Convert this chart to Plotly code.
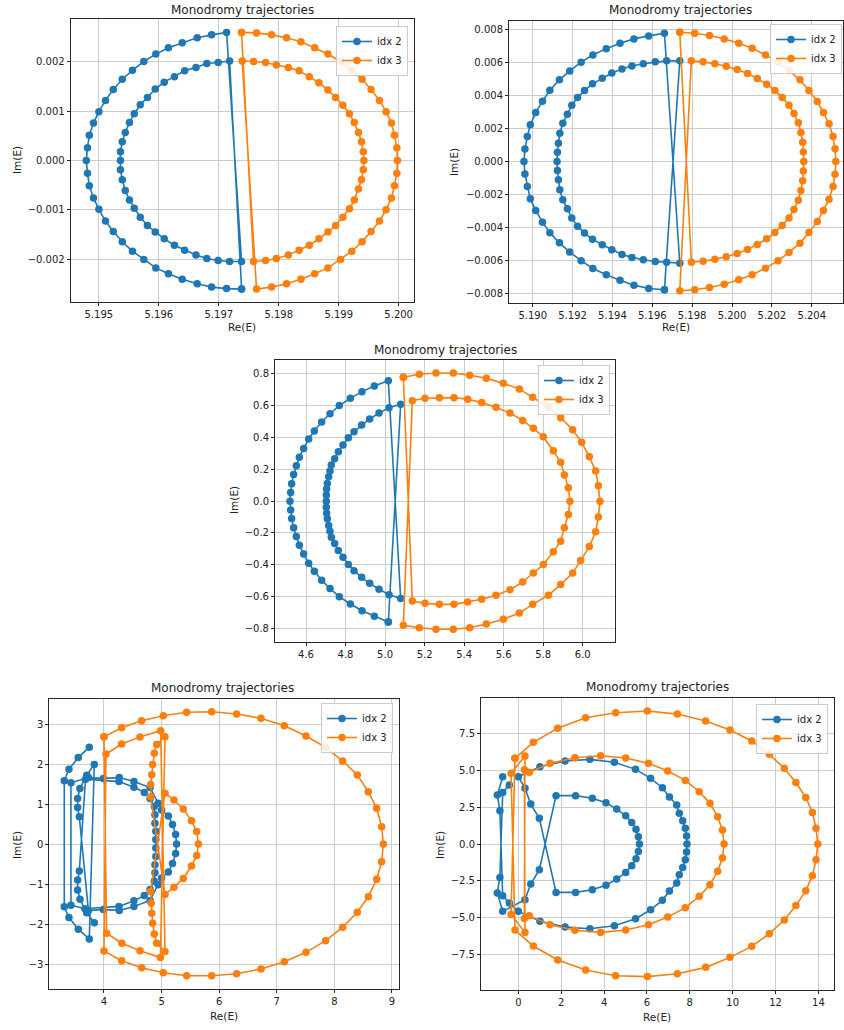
import plotly.graph_objects as go

# ---------------- data ----------------
# Panel 1
P1_IDX2_RE = [5.19738, 5.19713, 5.19688, 5.19664, 5.19639, 5.19616, 5.19595, 5.19575, 5.19556, 5.19539, 5.19524, 5.19511, 5.19500, 5.19491, 5.19484, 5.19481, 5.19479, 5.19481, 5.19484, 5.19491, 5.19500, 5.19511, 5.19524, 5.19539, 5.19556, 5.19575, 5.19595, 5.19616, 5.19639, 5.19664, 5.19688, 5.19713,
              5.19738, 5.19718, 5.19699, 5.19680, 5.19662, 5.19643, 5.19626, 5.19609, 5.19594, 5.19581, 5.19569, 5.19559, 5.19551, 5.19544, 5.19539, 5.19536, 5.19536, 5.19536, 5.19539, 5.19544, 5.19551, 5.19559, 5.19569, 5.19581, 5.19594, 5.19609, 5.19626, 5.19643, 5.19662, 5.19680, 5.19699, 5.19718,
              5.19738]
P1_IDX2_IM = [-0.00261, -0.00260, -0.00257, -0.00250, -0.00241, -0.00230, -0.00218, -0.00201, -0.00184, -0.00165, -0.00144, -0.00123, -0.00099, -0.00076, -0.00051, -0.00026, 0.0, 0.00026, 0.00051, 0.00076, 0.00099, 0.00122, 0.00144, 0.00165, 0.00183, 0.00201, 0.00216, 0.00229, 0.00239, 0.00249, 0.00255, 0.00260,
              -0.00205, -0.00205, -0.00203, -0.00199, -0.00192, -0.00182, -0.00172, -0.00159, -0.00145, -0.00132, -0.00115, -0.00097, -0.00080, -0.00061, -0.00039, -0.00019, 0.0, 0.00018, 0.00038, 0.00057, 0.00077, 0.00095, 0.00113, 0.00128, 0.00145, 0.00159, 0.00170, 0.00182, 0.00189, 0.00197, 0.00199, 0.00202,
              -0.00261]
P1_IDX3_RE = [5.19738, 5.19763, 5.19788, 5.19813, 5.19837, 5.19860, 5.19882, 5.19903, 5.19922, 5.19939, 5.19954, 5.19968, 5.19979, 5.19988, 5.19993, 5.19997, 5.19998, 5.19997, 5.19993, 5.19988, 5.19979, 5.19968, 5.19954, 5.19939, 5.19922, 5.19903, 5.19882, 5.19860, 5.19837, 5.19813, 5.19788, 5.19763,
              5.19739, 5.19758, 5.19778, 5.19796, 5.19816, 5.19834, 5.19851, 5.19867, 5.19882, 5.19895, 5.19907, 5.19918, 5.19926, 5.19933, 5.19938, 5.19941, 5.19942, 5.19941, 5.19938, 5.19933, 5.19926, 5.19918, 5.19907, 5.19895, 5.19882, 5.19867, 5.19851, 5.19834, 5.19816, 5.19796, 5.19778, 5.19758,
              5.19738]
P1_IDX3_IM = [0.00260, 0.00259, 0.00255, 0.00249, 0.00241, 0.00229, 0.00216, 0.00201, 0.00183, 0.00165, 0.00144, 0.00122, 0.00099, 0.00076, 0.00051, 0.00026, 0.0, -0.00026, -0.00051, -0.00076, -0.00100, -0.00123, -0.00144, -0.00165, -0.00184, -0.00201, -0.00218, -0.00230, -0.00241, -0.00250, -0.00257, -0.00261,
              0.00202, 0.00201, 0.00199, 0.00194, 0.00189, 0.00182, 0.00170, 0.00158, 0.00143, 0.00128, 0.00112, 0.00095, 0.00077, 0.00057, 0.00038, 0.00018, 0.0, -0.00019, -0.00039, -0.00058, -0.00080, -0.00098, -0.00115, -0.00132, -0.00145, -0.00159, -0.00172, -0.00182, -0.00192, -0.00199, -0.00203, -0.00205,
              0.00260]

# Panel 2
P2_IDX2_RE = [5.19661, 5.19582, 5.19508, 5.19438, 5.19369, 5.19302, 5.19243, 5.19186, 5.19134, 5.19086, 5.19049, 5.19015, 5.18988, 5.18973, 5.18961, 5.18956, 5.18961, 5.18973, 5.18988, 5.19015, 5.19049, 5.19086, 5.19134, 5.19186, 5.19243, 5.19302, 5.19369, 5.19438, 5.19508, 5.19582, 5.19661,
              5.19738, 5.19672, 5.19615, 5.19555, 5.19498, 5.19448, 5.19397, 5.19349, 5.19300, 5.19260, 5.19225, 5.19196, 5.19174, 5.19151, 5.19136, 5.19129, 5.19124, 5.19122, 5.19124, 5.19129, 5.19136, 5.19151, 5.19174, 5.19196, 5.19225, 5.19260, 5.19300, 5.19349, 5.19397, 5.19448, 5.19498, 5.19555, 5.19615, 5.19672, 5.19738,
              5.19661]
P2_IDX2_IM = [-0.00776, -0.00768, -0.00748, -0.00719, -0.00685, -0.00647, -0.00600, -0.00548, -0.00492, -0.00431, -0.00367, -0.00296, -0.00226, -0.00151, -0.00075, 0.0, 0.00075, 0.00151, 0.00222, 0.00296, 0.00365, 0.00431, 0.00494, 0.00548, 0.00601, 0.00645, 0.00683, 0.00715, 0.00742, 0.00760, 0.00776,
              -0.00615, -0.00609, -0.00605, -0.00594, -0.00580, -0.00562, -0.00534, -0.00504, -0.00470, -0.00433, -0.00391, -0.00341, -0.00286, -0.00232, -0.00171, -0.00111, -0.00054, 0.0, 0.00056, 0.00111, 0.00171, 0.00232, 0.00286, 0.00341, 0.00387, 0.00429, 0.00470, 0.00504, 0.00536, 0.00560, 0.00578, 0.00592, 0.00603, 0.00609, 0.00609,
              -0.00776]
P2_IDX3_RE = [5.19738, 5.19813, 5.19887, 5.19961, 5.20034, 5.20101, 5.20168, 5.20231, 5.20286, 5.20341, 5.20386, 5.20428, 5.20459, 5.20487, 5.20507, 5.20517, 5.20521, 5.20517, 5.20507, 5.20487, 5.20459, 5.20428, 5.20386, 5.20341, 5.20286, 5.20231, 5.20168, 5.20101, 5.20034, 5.19961, 5.19887, 5.19813, 5.19738,
              5.19796, 5.19855, 5.19914, 5.19971, 5.20026, 5.20078, 5.20127, 5.20174, 5.20215, 5.20252, 5.20286, 5.20311, 5.20333, 5.20346, 5.20355, 5.20358, 5.20360, 5.20358, 5.20355, 5.20346, 5.20333, 5.20311, 5.20286, 5.20252, 5.20215, 5.20174, 5.20127, 5.20078, 5.20026, 5.19971, 5.19914, 5.19855, 5.19796,
              5.19738]
P2_IDX3_IM = [0.00782, 0.00776, 0.00762, 0.00742, 0.00715, 0.00685, 0.00645, 0.00601, 0.00550, 0.00494, 0.00429, 0.00363, 0.00296, 0.00228, 0.00151, 0.00077, 0.0, -0.00077, -0.00151, -0.00228, -0.00296, -0.00363, -0.00429, -0.00494, -0.00550, -0.00601, -0.00645, -0.00685, -0.00715, -0.00742, -0.00762, -0.00776, -0.00782,
              0.00609, 0.00603, 0.00592, 0.00576, 0.00556, 0.00532, 0.00502, 0.00468, 0.00429, 0.00387, 0.00341, 0.00290, 0.00234, 0.00175, 0.00117, 0.00058, 0.0, -0.00058, -0.00117, -0.00175, -0.00234, -0.00290, -0.00341, -0.00387, -0.00429, -0.00468, -0.00502, -0.00532, -0.00556, -0.00576, -0.00592, -0.00603, -0.00609,
              0.00782]

# Panel 3
P3_IDX2_RE = [5.0165, 4.9457, 4.8833, 4.8243, 4.7686, 4.7214, 4.6793, 4.6422, 4.6135, 4.5882, 4.5663, 4.5511, 4.5376, 4.5275, 4.5224, 4.5191, 4.5224, 4.5275, 4.5376, 4.5511, 4.5663, 4.5882, 4.6135, 4.6422, 4.6793, 4.7214, 4.7686, 4.8243, 4.8833, 4.9457, 5.0165,
              5.0789, 5.0199, 4.9693, 4.9221, 4.8816, 4.8428, 4.8142, 4.7872, 4.7636, 4.7450, 4.7282, 4.7214, 4.7147, 4.7079, 4.7045, 4.7029, 4.7029, 4.7029, 4.7045, 4.7079, 4.7147, 4.7214, 4.7282, 4.7450, 4.7636, 4.7872, 4.8142, 4.8428, 4.8816, 4.9221, 4.9693, 5.0199, 5.0789,
              5.0165]
P3_IDX2_IM = [-0.760, -0.7245, -0.689, -0.647, -0.601, -0.550, -0.498, -0.441, -0.391, -0.332, -0.277, -0.223, -0.168, -0.109, -0.055, 0.0, 0.055, 0.109, 0.168, 0.223, 0.277, 0.332, 0.391, 0.441, 0.498, 0.550, 0.601, 0.647, 0.689, 0.7245, 0.758,
              -0.613, -0.588, -0.554, -0.517, -0.479, -0.437, -0.399, -0.353, -0.311, -0.267, -0.227, -0.189, -0.153, -0.111, -0.076, -0.038, 0.0, 0.038, 0.076, 0.111, 0.153, 0.189, 0.227, 0.267, 0.311, 0.353, 0.399, 0.437, 0.479, 0.517, 0.554, 0.588, 0.609,
              -0.760]
P3_IDX3_RE = [5.0924, 5.1733, 5.2577, 5.3453, 5.4280, 5.5123, 5.5983, 5.6792, 5.7467, 5.8259, 5.8883, 5.9490, 5.9946, 6.0334, 6.0654, 6.0789, 6.0873, 6.0789, 6.0654, 6.0334, 5.9895, 5.9490, 5.8883, 5.8259, 5.7467, 5.6792, 5.5983, 5.5123, 5.4280, 5.3453, 5.2577, 5.1733, 5.0924,
              5.1379, 5.2020, 5.2745, 5.3487, 5.4179, 5.4887, 5.5612, 5.6320, 5.6961, 5.7501, 5.8006, 5.8512, 5.8883, 5.9069, 5.9271, 5.9355, 5.9271, 5.9069, 5.8883, 5.8512, 5.8006, 5.7501, 5.6961, 5.6320, 5.5612, 5.4887, 5.4179, 5.3487, 5.2745, 5.2020, 5.1379,
              5.0924]
P3_IDX3_IM = [0.779, 0.798, 0.806, 0.806, 0.792, 0.773, 0.741, 0.706, 0.653, 0.594, 0.525, 0.449, 0.370, 0.279, 0.189, 0.097, 0.0, -0.099, -0.193, -0.286, -0.374, -0.452, -0.525, -0.592, -0.649, -0.704, -0.743, -0.773, -0.796, -0.806, -0.806, -0.796, -0.781,
              0.632, 0.647, 0.651, 0.651, 0.641, 0.620, 0.590, 0.554, 0.508, 0.458, 0.405, 0.317, 0.244, 0.164, 0.084, 0.0, -0.084, -0.168, -0.252, -0.319, -0.399, -0.452, -0.508, -0.557, -0.592, -0.617, -0.634, -0.649, -0.649, -0.643, -0.628,
              0.779]

# Panel 4
P4_IDX2_RE = [3.745, 3.554, 3.392, 3.311, 3.311, 3.392, 3.554, 3.745, 3.832, 3.70, 3.583, 3.543, 3.543, 3.572,
              3.73, 3.99, 4.266, 4.52, 4.80, 4.94, 5.0, 5.117, 5.19, 5.244, 5.26, 5.244, 5.19, 5.117, 5.0, 4.94, 4.80, 4.52, 4.266, 3.99, 3.73,
              3.427, 3.427, 3.67, 4.26, 4.52, 4.70, 4.80, 4.874, 4.885, 4.885, 4.90, 4.90, 4.90, 4.90, 4.885, 4.885, 4.874, 4.80, 4.70, 4.52, 4.26, 3.68,
              3.572, 3.543, 3.543, 3.583, 3.70, 3.832]
P4_IDX2_IM = [2.42, 2.16, 1.87, 1.58, -1.57, -1.84, -2.13, -2.375, 1.99, 1.72, 1.39, 1.14, 0.91, 0.68,
              -1.66, -1.64, -1.66, -1.56, -1.41, -1.02, -0.85, -0.70, -0.49, -0.24, 0.0, 0.24, 0.49, 0.70, 0.85, 1.02, 1.41, 1.56, 1.66, 1.64, 1.66,
              1.53, -1.53, -1.62, -1.56, -1.42, -1.29, -1.14, -0.93, -0.72, -0.52, -0.31, -0.10, 0.11, 0.32, 0.52, 0.73, 0.94, 1.14, 1.29, 1.42, 1.56, 1.62,
              -0.675, -0.90, -1.15, -1.38, -1.72, -1.97]
P4_IDX3_RE = [4.0, 4.307, 4.654, 5.030, 5.435, 5.869, 6.303, 6.726, 7.131, 7.507, 7.848, 8.144, 8.398, 8.589, 8.734, 8.821, 8.850, 8.821, 8.734, 8.589, 8.398, 8.144, 7.848, 7.507, 7.131, 6.726, 6.303, 5.869, 5.435, 5.030, 4.654, 4.307, 4.0,
              4.035, 4.307, 4.625, 4.984,
              5.06, 4.914, 4.874, 4.845, 4.83, 4.82, 4.81,
              5.06, 5.215, 5.377, 5.52, 5.61, 5.64, 5.61, 5.52, 5.377, 5.215, 5.06,
              4.81, 4.81, 4.83, 4.845, 4.874, 4.914, 5.059,
              4.98, 4.625, 4.31, 4.046,
              4.0]
P4_IDX3_IM = [2.683, 2.908, 3.083, 3.208, 3.292, 3.308, 3.25, 3.142, 2.958, 2.70, 2.417, 2.075, 1.725, 1.308, 0.892, 0.433, 0.0, -0.442, -0.883, -1.317, -1.708, -2.083, -2.417, -2.708, -2.942, -3.125, -3.242, -3.292, -3.292, -3.217, -3.092, -2.917, -2.675,
              2.25, 2.50, 2.675, 2.833,
              -2.69, -2.48, -2.25, -1.98, -1.73, -1.48, -1.19,
              1.27, 1.10, 0.875, 0.58, 0.31, 0.0, -0.29, -0.55, -0.86, -1.08, -1.26,
              1.18, 1.49, 1.73, 1.99, 2.27, 2.49, 2.683,
              -2.84, -2.67, -2.48, -2.23,
              2.683]

# Panel 5
P5_IDX2_RE = [-0.73, -0.98, -0.86, -0.73, -0.42, 0.0,
              1.01, 2.18, 3.34, 4.48, 5.47, 6.17, 6.72, 7.05, 7.39, 7.51, 7.67, 7.79, 7.85, 7.87, 7.85, 7.79, 7.67, 7.51, 7.39, 7.05, 6.72, 6.17, 5.47, 4.48, 3.34, 2.18, 1.01, 0.0,
              0.31, 0.58, 0.98,
              1.76, 2.67, 3.45, 4.09, 4.59, 5.01, 5.29, 5.49, 5.60, 5.65, 5.60, 5.49, 5.29, 5.01, 4.59, 4.09, 3.45, 2.67, 1.76,
              0.98, 0.58, 0.31, -0.73, -0.98, -0.86, -0.73, -0.42]
P5_IDX2_IM = [4.58, 3.33, 2.27, -3.51, -4.01, -4.58,
              -5.26, -5.65, -5.76, -5.56, -5.08, -4.47, -3.83, -3.20, -2.65, -2.09, -1.59, -1.07, -0.54, 0.0, 0.54, 1.07, 1.59, 2.09, 2.65, 3.20, 3.83, 4.47, 5.08, 5.56, 5.76, 5.65, 5.26, 4.58,
              3.79, 2.72, 1.75,
              -3.29, -3.29, -3.11, -2.81, -2.38, -1.93, -1.47, -1.0, -0.5, 0.0, 0.5, 1.0, 1.47, 1.93, 2.38, 2.81, 3.11, 3.29, 3.29,
              -1.75, -2.72, -3.79, -4.58, -3.33, -2.27, 3.51, 4.01]
P5_IDX3_RE = [-0.156, 0.70, 1.835, 3.14, 4.54, 6.02, 7.42, 8.74, 9.875, 10.89, 11.71, 12.41, 12.95, 13.41, 13.72, 13.89, 13.97, 13.89, 13.72, 13.41, 12.95, 12.41, 11.71, 10.89, 9.875, 8.74, 7.42, 6.02, 4.54, 3.14, 1.835, 0.70, -0.156,
              -0.34, 0.31, 0.28,
              0.51, 1.48, 2.64, 3.84, 5.01, 6.07, 6.97, 7.79, 8.44, 8.94, 9.30, 9.52, 9.60, 9.52, 9.30, 8.94, 8.44, 7.79, 6.97, 6.07, 5.01, 3.84, 2.64, 1.48, 0.51, 0.28,
              0.31, -0.34, -0.156]
P5_IDX3_IM = [5.83, 6.92, 7.87, 8.59, 8.93, 9.05, 8.84, 8.37, 7.76, 7.01, 6.10, 5.15, 4.19, 3.17, 2.15, 1.07, 0.0, -1.07, -2.15, -3.17, -4.19, -5.17, -6.10, -6.96, -7.71, -8.39, -8.82, -9.02, -8.96, -8.57, -7.89, -6.94, -5.85,
              4.81, 5.99, -5.06,
              -4.88, -5.49, -5.87, -6.01, -5.85, -5.49, -4.97, -4.33, -3.56, -2.77, -1.86, -0.95, 0.0, 0.95, 1.86, 2.77, 3.56, 4.33, 4.97, 5.49, 5.85, 6.01, 5.87, 5.49, 4.88, 5.06,
              -6.01, -4.79, 5.83]

# tick values / labels
P1_XT = [5.195, 5.196, 5.197, 5.198, 5.199, 5.200]
P1_XL = ["5.195", "5.196", "5.197", "5.198", "5.199", "5.200"]
P1_YT = [-0.002, -0.001, 0.0, 0.001, 0.002]
P1_YL = ["\u22120.002", "\u22120.001", "0.000", "0.001", "0.002"]
P2_XT = [5.190, 5.192, 5.194, 5.196, 5.198, 5.200, 5.202, 5.204]
P2_XL = ["5.190", "5.192", "5.194", "5.196", "5.198", "5.200", "5.202", "5.204"]
P2_YT = [-0.008, -0.006, -0.004, -0.002, 0.0, 0.002, 0.004, 0.006, 0.008]
P2_YL = ["\u22120.008", "\u22120.006", "\u22120.004", "\u22120.002", "0.000", "0.002", "0.004", "0.006", "0.008"]
P3_XT = [4.6, 4.8, 5.0, 5.2, 5.4, 5.6, 5.8, 6.0]
P3_XL = ["4.6", "4.8", "5.0", "5.2", "5.4", "5.6", "5.8", "6.0"]
P3_YT = [-0.8, -0.6, -0.4, -0.2, 0.0, 0.2, 0.4, 0.6, 0.8]
P3_YL = ["\u22120.8", "\u22120.6", "\u22120.4", "\u22120.2", "0.0", "0.2", "0.4", "0.6", "0.8"]
P4_XT = [4, 5, 6, 7, 8, 9]
P4_XL = ["4", "5", "6", "7", "8", "9"]
P4_YT = [-3, -2, -1, 0, 1, 2, 3]
P4_YL = ["\u22123", "\u22122", "\u22121", "0", "1", "2", "3"]
P5_XT = [0, 2, 4, 6, 8, 10, 12, 14]
P5_XL = ["0", "2", "4", "6", "8", "10", "12", "14"]
P5_YT = [-7.5, -5.0, -2.5, 0.0, 2.5, 5.0, 7.5]
P5_YL = ["\u22127.5", "\u22125.0", "\u22122.5", "0.0", "2.5", "5.0", "7.5"]

TITLE = "Monodromy trajectories"
SERIES_NAMES = ["idx 2", "idx 3"]

# ---------------- layout (pixels on the 844 x 1030 page) ----------------
W, H = 844, 1030
BLUE, ORANGE = "#1f77b4", "#ff7f0e"
FONT = "DejaVu Sans"
TXT = "#222222"

panels = [
    dict(d2=(P1_IDX2_RE, P1_IDX2_IM), d3=(P1_IDX3_RE, P1_IDX3_IM), box=(70.7, 19, 414, 302),
         xr=[5.19453, 5.200256], yr=[-0.002872, 0.002872], xt=(P1_XT, P1_XL), yt=(P1_YT, P1_YL),
         title=(242, 10), xlab=(242, 327), ylab=(17, 160), leg=(408, 26)),
    dict(d2=(P2_IDX2_RE, P2_IDX2_IM), d3=(P2_IDX3_RE, P2_IDX3_IM), box=(509, 20.7, 843, 303),
         xr=[5.18881, 5.20557], yr=[-0.00856, 0.00852], xt=(P2_XT, P2_XL), yt=(P2_YT, P2_YL),
         title=(680, 10), xlab=(676, 327), ylab=(454, 162), leg=(842, 24)),
    dict(d2=(P3_IDX2_RE, P3_IDX2_IM), d3=(P3_IDX3_RE, P3_IDX3_IM), box=(275, 360, 615, 642),
         xr=[4.4432, 6.1632], yr=[-0.886, 0.888], xt=(P3_XT, P3_XL), yt=(P3_YT, P3_YL),
         title=(445, 350), xlab=None, ylab=(234, 500), leg=(610, 365)),
    dict(d2=(P4_IDX2_RE, P4_IDX2_IM), d3=(P4_IDX3_RE, P4_IDX3_IM), box=(49.3, 699, 399.3, 989),
         xr=[3.051, 9.127], yr=[-3.625, 3.625], xt=(P4_XT, P4_XL), yt=(P4_YT, P4_YL),
         title=(223, 688), xlab=(224, 1016), ylab=(17, 845), leg=(393, 703)),
    dict(d2=(P5_IDX2_RE, P5_IDX2_IM), d3=(P5_IDX3_RE, P5_IDX3_IM), box=(481, 697.7, 834, 990),
         xr=[-1.742, 14.728], yr=[-9.93, 9.955], xt=(P5_XT, P5_XL), yt=(P5_YT, P5_YL),
         title=(657, 687), xlab=(657, 1017), ylab=(440, 845), leg=(828, 704)),
]

fig = go.Figure()
layout = dict(width=W, height=H, margin=dict(l=0, r=0, t=0, b=0),
              paper_bgcolor="white", plot_bgcolor="white",
              font=dict(family=FONT, color=TXT, size=10))
annotations = []


def px(x):
    return x / W


def py(y):
    return 1 - y / H


for i, p in enumerate(panels, start=1):
    sx = "" if i == 1 else str(i)
    xa, ya, lg = "x" + sx, "y" + sx, "legend" + sx
    for (re_, im_), name, col in ((p["d2"], SERIES_NAMES[0], BLUE), (p["d3"], SERIES_NAMES[1], ORANGE)):
        fig.add_trace(go.Scatter(x=re_, y=im_, mode="lines+markers", name=name,
                                 line=dict(color=col, width=1.6),
                                 marker=dict(color=col, size=7.5),
                                 xaxis=xa, yaxis=ya, legend=lg, showlegend=True))
    l, t, r, b = p["box"]
    common = dict(showline=True, mirror=True, linecolor="#262626", linewidth=1,
                  ticks="outside", ticklen=3, tickwidth=1, tickcolor="#262626",
                  showgrid=True, gridcolor="#cdcdcd", gridwidth=1, zeroline=False,
                  tickfont=dict(family=FONT, size=10, color=TXT))
    layout["xaxis" + sx] = dict(domain=[px(l), px(r)], range=p["xr"], anchor=ya,
                                tickmode="array", tickvals=p["xt"][0], ticktext=p["xt"][1], **common)
    layout["yaxis" + sx] = dict(domain=[py(b), py(t)], range=p["yr"], anchor=xa,
                                tickmode="array", tickvals=p["yt"][0], ticktext=p["yt"][1], **common)
    lx, ly = p["leg"]
    layout[lg] = dict(x=px(lx), y=py(ly), xanchor="right", yanchor="top",
                      bgcolor="rgba(255,255,255,0.85)", bordercolor="#cccccc", borderwidth=1,
                      font=dict(family=FONT, size=10, color=TXT),
                      itemwidth=30, tracegroupgap=0)
    tx, ty = p["title"]
    annotations.append(dict(text=TITLE, x=px(tx), y=py(ty), xref="paper", yref="paper",
                            xanchor="center", yanchor="middle", showarrow=False,
                            font=dict(family=FONT, size=12, color=TXT)))
    if p["xlab"]:
        ax_, ay_ = p["xlab"]
        annotations.append(dict(text="Re(E)", x=px(ax_), y=py(ay_), xref="paper", yref="paper",
                                xanchor="center", yanchor="middle", showarrow=False,
                                font=dict(family=FONT, size=10.5, color=TXT)))
    ax_, ay_ = p["ylab"]
    annotations.append(dict(text="Im(E)", x=px(ax_), y=py(ay_), xref="paper", yref="paper",
                            xanchor="center", yanchor="middle", showarrow=False, textangle=-90,
                            font=dict(family=FONT, size=10.5, color=TXT)))

layout["annotations"] = annotations
fig.update_layout(**layout)
fig.write_html("out.html")
